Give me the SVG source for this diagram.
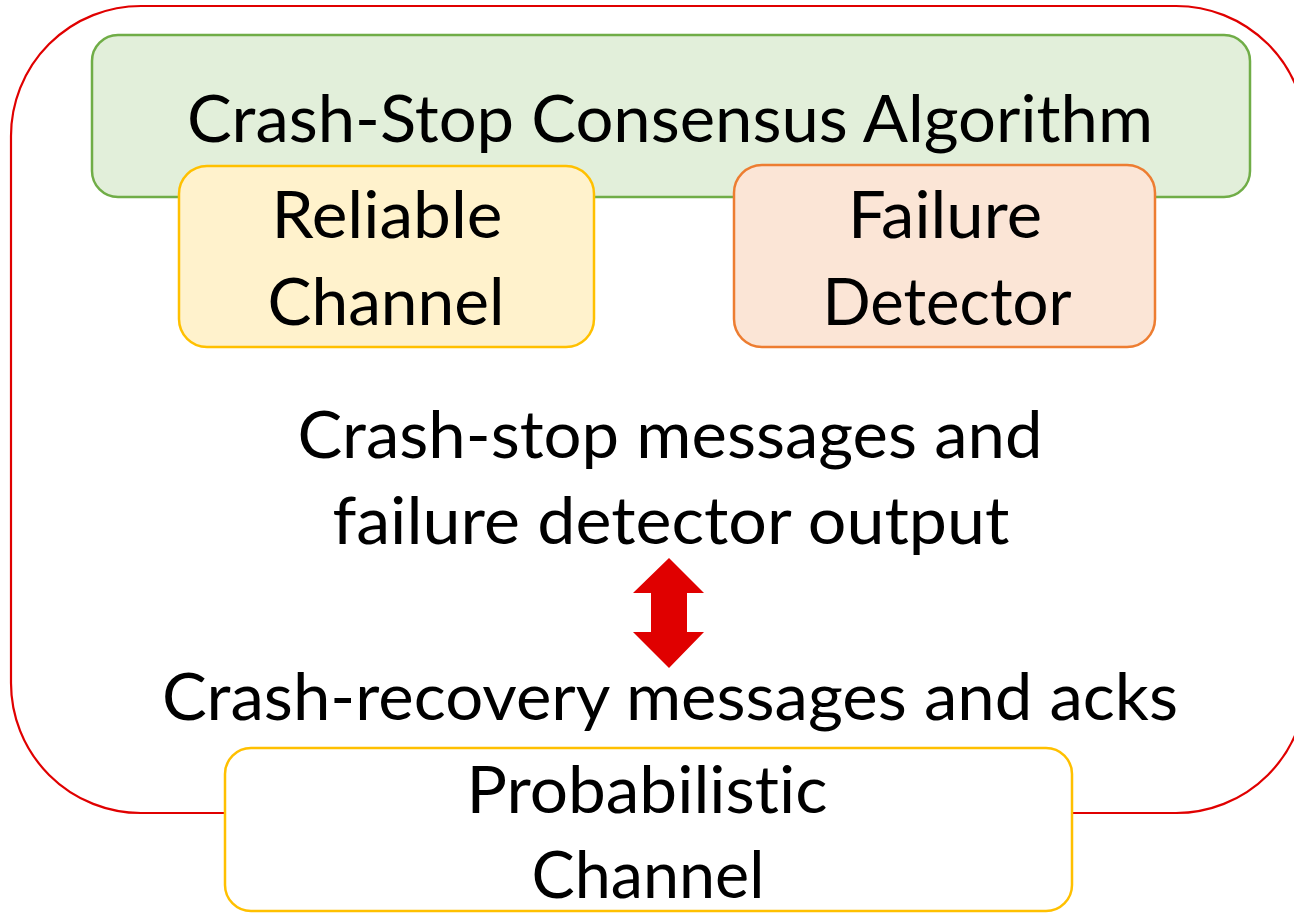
<svg xmlns="http://www.w3.org/2000/svg" width="1294" height="913" viewBox="0 0 1294 913">
  <defs>
    <style>
      .t { font-family: Lato, "Open Sans", "Liberation Sans", sans-serif; font-size: 66px; fill: #000; text-anchor: middle; font-variant-ligatures: none; font-feature-settings: "liga" 0, "dlig" 0, "clig" 0; }
      .box { stroke-width: 2.5; }
    </style>
  </defs>
  <rect width="1294" height="913" fill="#fff"/>
  <g id="outer">
    <rect x="11" y="6" width="1295" height="807" rx="130" ry="130" fill="none" stroke="#E00000" stroke-width="2.2"/>
  </g>
  <g id="consensus">
    <rect class="box" x="92" y="35" width="1158" height="162" rx="26" ry="26" fill="#E2EFDA" stroke="#70AD47"/>
    <text class="t" x="670" y="142" textLength="966" lengthAdjust="spacingAndGlyphs">Crash-Stop Consensus Algorithm</text>
  </g>
  <g id="reliable">
    <rect class="box" x="179" y="166" width="415" height="181" rx="28" ry="28" fill="#FFF2CC" stroke="#FFC000"/>
    <text class="t" x="387" y="238" textLength="231" lengthAdjust="spacingAndGlyphs">Reliable</text>
    <text class="t" x="386" y="325" textLength="237" lengthAdjust="spacingAndGlyphs">Channel</text>
  </g>
  <g id="failure">
    <rect class="box" x="734" y="165" width="421" height="182" rx="28" ry="28" fill="#FBE5D6" stroke="#ED7D31"/>
    <text class="t" x="945" y="238" textLength="194" lengthAdjust="spacingAndGlyphs">Failure</text>
    <text class="t" x="947" y="325" textLength="249" lengthAdjust="spacingAndGlyphs">Detector</text>
  </g>
  <g id="labels">
    <text class="t" x="670" y="458" textLength="745" lengthAdjust="spacingAndGlyphs">Crash-stop messages and</text>
    <text class="t" x="671" y="544" textLength="677" lengthAdjust="spacingAndGlyphs">failure detector output</text>
    <text class="t" x="670" y="720" textLength="1016" lengthAdjust="spacingAndGlyphs">Crash-recovery messages and acks</text>
  </g>
  <g id="connectors">
    <polygon points="669,558 704,593 687,593 687,632 704,632 669,668 633,632 651,632 651,593 633,593" fill="#E00000"/>
  </g>
  <g id="probabilistic">
    <rect class="box" x="225" y="748" width="847" height="163" rx="26" ry="26" fill="#fff" stroke="#FFC000"/>
    <text class="t" x="647" y="813" textLength="361" lengthAdjust="spacingAndGlyphs">Probabilis<tspan>t</tspan>ic</text>
    <text class="t" x="648" y="898" textLength="233" lengthAdjust="spacingAndGlyphs">Channel</text>
  </g>
</svg>
